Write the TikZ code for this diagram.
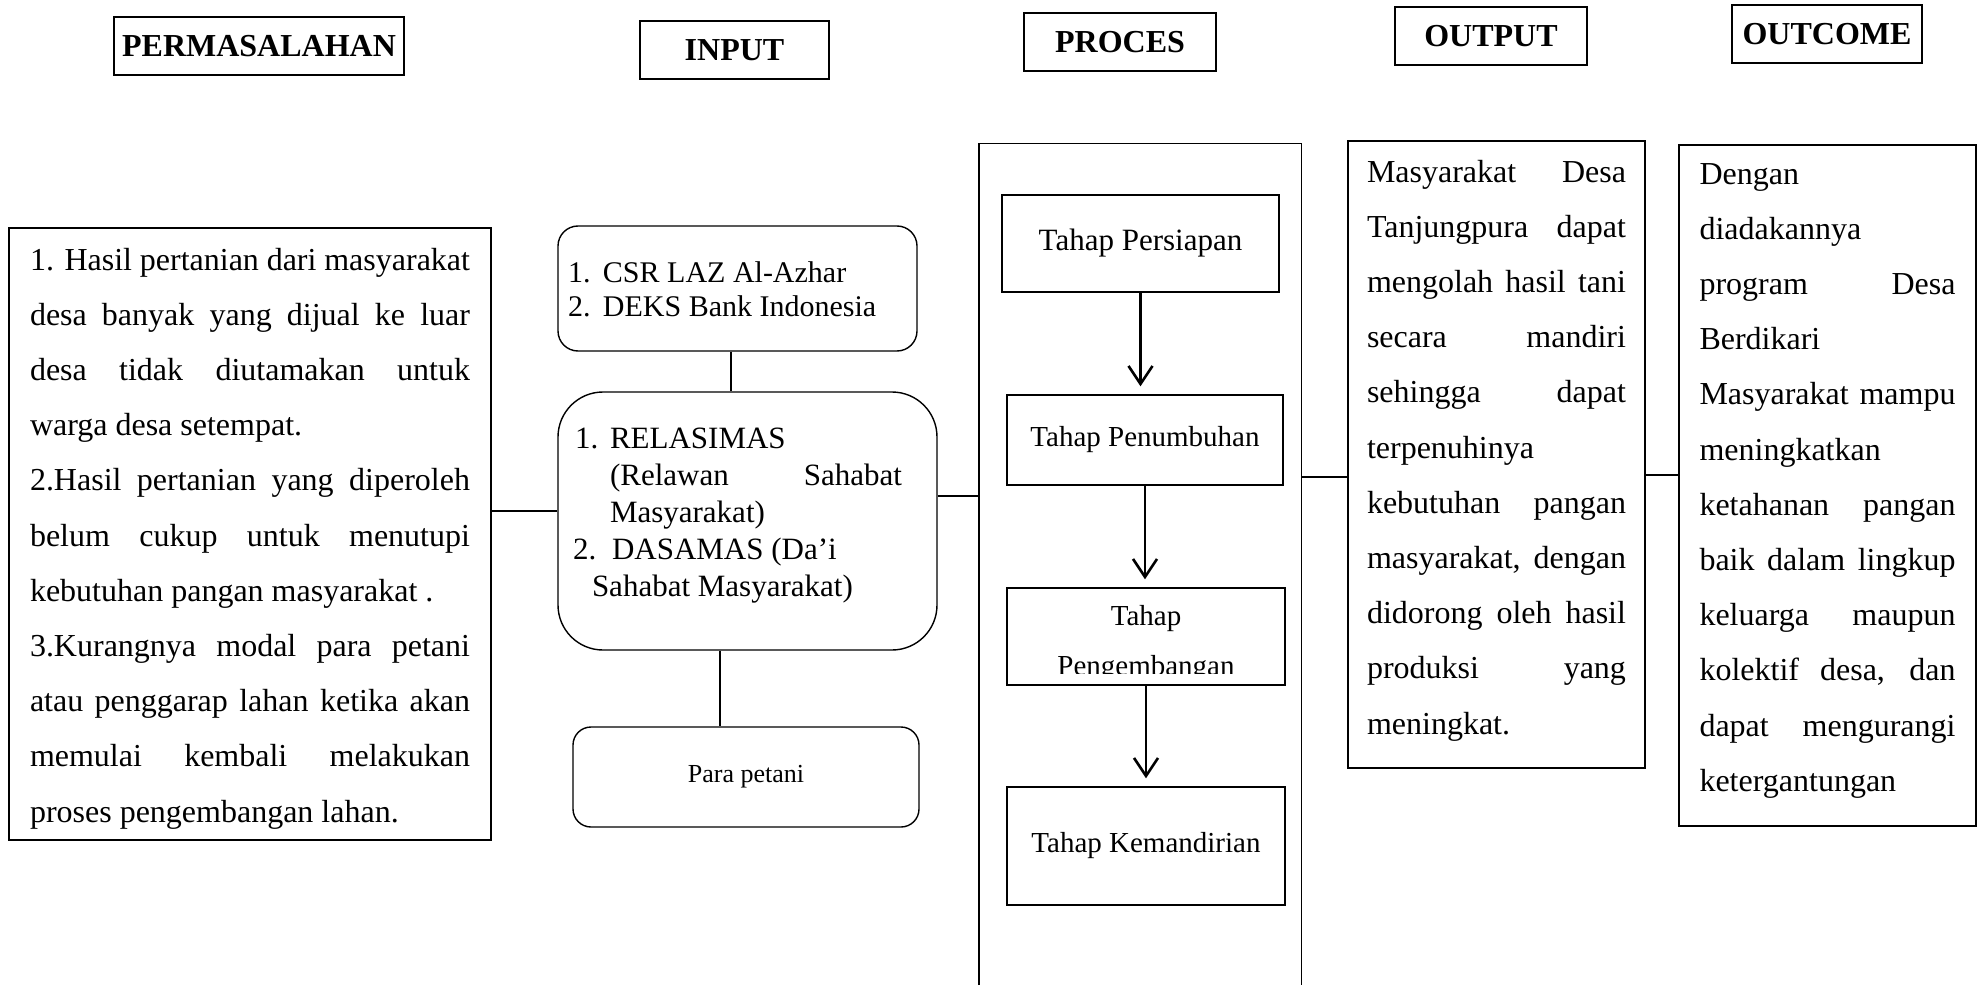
\documentclass[tikz,border=0pt]{standalone}
\usepackage{fontspec}
\setmainfont{Liberation Serif}
\usetikzlibrary{arrows.meta}

\newcommand{\jrow}[1]{\hbox to \hsize{\strut #1}}
\newcommand{\lrow}[1]{\hbox to \hsize{\strut #1\hfil}}

\begin{document}
\begin{tikzpicture}[x=1pt,y=-1pt,
  head/.style={draw, line width=2pt, inner sep=0pt, minimum height=58pt,
    font=\fontsize{32}{38}\selectfont\bfseries},
  frame/.style={draw, line width=1.4pt, inner sep=0pt},
  roundbox/.style={frame, rounded corners=#1},
  stage/.style={frame, align=center, font=\fontsize{29}{50}\selectfont},
  link/.style={line width=1.4pt},
  flow/.style={line width=2.6pt, -{Straight Barb[length=18pt,width=24pt]}, shorten >=8pt}]
\useasboundingbox (0,0) rectangle (1984,987);

% column heads
\node[head, minimum width=290pt] (hmasalah) at (259,46.5) {PERMASALAHAN};
\node[head, minimum width=189pt] (hinput) at (734.5,50) {INPUT};
\node[head, minimum width=192pt] (hproses) at (1120,42) {PROCES};
\node[head, minimum width=192pt] (houtput) at (1491,36.5) {OUTPUT};
\node[head, minimum width=190pt] (houtcome) at (1827,34.5) {OUTCOME};

% permasalahan
\node[frame, line width=2.4pt, minimum width=482pt, minimum height=612pt] (masalah) at (250,534)
  {\parbox[t][612pt][t]{440pt}{\fontsize{32}{55.2}\selectfont\vspace*{3.4pt}%
   \jrow{1. Hasil pertanian dari masyarakat}
   \jrow{desa banyak yang dijual ke luar}
   \jrow{desa tidak diutamakan untuk}
   \lrow{warga desa setempat.}
   \jrow{2.Hasil pertanian yang diperoleh}
   \jrow{belum cukup untuk menutupi}
   \lrow{kebutuhan pangan masyarakat .}
   \jrow{3.Kurangnya modal para petani}
   \jrow{atau penggarap lahan ketika akan}
   \jrow{memulai kembali melakukan}
   \lrow{proses pengembangan lahan.}}};

% input
\node[roundbox=20pt, minimum width=359pt, minimum height=125pt] (intop) at (737.5,288.5)
  {\parbox[t][125pt][t]{339pt}{\fontsize{30}{34}\selectfont\vspace*{32.2pt}%
   \lrow{\makebox[35pt][l]{1.}CSR LAZ Al-Azhar}
   \lrow{\makebox[35pt][l]{2.}DEKS Bank Indonesia}}};
\node[roundbox=45pt, minimum width=379pt, minimum height=258pt] (inmid) at (747.5,521)
  {\parbox[t][258pt][t]{349pt}{\fontsize{31}{37}\selectfont\vspace*{30.1pt}%
   \lrow{\hspace*{2pt}\makebox[35pt][l]{1.}RELASIMAS}
   \lrow{\hspace*{37pt}\hbox to 292pt{(Relawan\hfil Sahabat}}
   \lrow{\hspace*{37pt}Masyarakat)}
   \lrow{\makebox[39pt][l]{2.}DASAMAS (Da’i}
   \lrow{\hspace*{19pt}Sahabat Masyarakat)}}};
\node[roundbox=18pt, minimum width=346pt, minimum height=100pt,
  font=\fontsize{26}{30}\selectfont] (inbot) at (746,777) {Para petani};

% proses
\node[minimum width=322pt, minimum height=841pt, inner sep=0pt] (proc) at (1140,564.5) {};
\draw[link] (proc.south west) -- (proc.north west) -- (proc.north east) -- (proc.south east);
\node[stage, font=\fontsize{31}{36}\selectfont, minimum width=277pt, minimum height=97pt] (s1) at (1140.5,243.5) {Tahap Persiapan};
\node[stage, minimum width=276pt, minimum height=90pt] (s2) at (1145,440) {Tahap Penumbuhan};
\node[stage, minimum width=278pt, minimum height=97pt] (s3) at (1146,636.5) {\rule{0pt}{34pt}Tahap\\Pengembangan};
\fill[white] (1008,674) rectangle (1284,683.6);
\node[stage, minimum width=278pt, minimum height=118pt] (s4) at (1146,846) {Tahap Kemandirian};
\draw[flow] (s1.south) -- (s1.south |- s2.north);
\draw[flow] (s2.south) -- (s2.south |- s3.north);
\draw[flow] (s3.south) -- (s3.south |- s4.north);

% output
\node[frame, minimum width=297pt, minimum height=627pt] (hasil) at (1496.5,454.5)
  {\parbox[t][627pt][t]{259pt}{\fontsize{32}{55.2}\selectfont\vspace*{2.4pt}%
   \jrow{Masyarakat Desa}
   \jrow{Tanjungpura dapat}
   \jrow{mengolah hasil tani}
   \jrow{secara mandiri}
   \jrow{sehingga dapat}
   \lrow{terpenuhinya}
   \jrow{kebutuhan pangan}
   \jrow{masyarakat, dengan}
   \jrow{didorong oleh hasil}
   \jrow{produksi yang}
   \lrow{meningkat.}}};

% outcome
\node[frame, minimum width=297pt, minimum height=681pt] (dampak) at (1827.5,485.5)
  {\parbox[t][681pt][t]{256pt}{\fontsize{32}{55.2}\selectfont\vspace*{0.4pt}%
   \lrow{Dengan}
   \lrow{diadakannya}
   \jrow{program Desa}
   \lrow{Berdikari}
   \jrow{Masyarakat mampu}
   \lrow{meningkatkan}
   \jrow{ketahanan pangan}
   \jrow{baik dalam lingkup}
   \jrow{keluarga maupun}
   \jrow{kolektif desa, dan}
   \jrow{dapat mengurangi}
   \lrow{ketergantungan}}};

% connectors
\draw[link] ([yshift=23pt]masalah.east) -- ([yshift=23pt]masalah.east -| inmid.west);
\draw[link] ([xshift=-6.5pt]intop.south) -- ([xshift=-6.5pt]intop.south |- inmid.north);
\draw[link] ([xshift=-27.5pt]inmid.south) -- ([xshift=-27.5pt]inmid.south |- inbot.north);
\draw[link] ([yshift=25pt]inmid.east) -- ([yshift=25pt]inmid.east -| proc.west);
\draw[link] ([yshift=87.5pt]proc.east) -- ([yshift=87.5pt]proc.east -| hasil.west);
\draw[link] ([yshift=-20.5pt]hasil.east) -- ([yshift=-20.5pt]hasil.east -| dampak.west);
\end{tikzpicture}
\end{document}
